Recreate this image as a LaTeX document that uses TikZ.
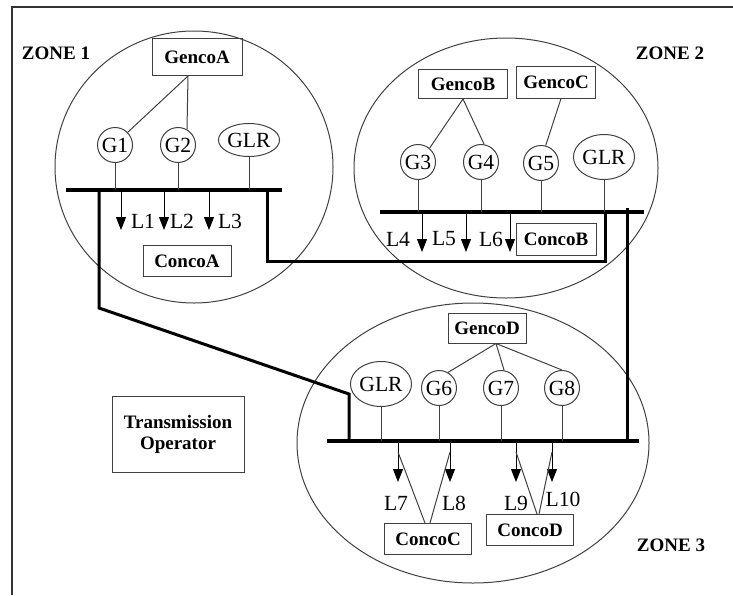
\documentclass[tikz,border=0pt]{standalone}
\usepackage{fontspec}
\setmainfont{Liberation Serif}
\usetikzlibrary{shapes.geometric,arrows.meta}
\newcommand{\taille}{\fontsize{9.5}{10.5}\selectfont}
\newcommand{\grand}{\fontsize{10.8}{12}\selectfont}
\begin{document}
\begin{tikzpicture}[x=0.5pt,y=-0.5pt,
  every node/.style={font=\grand,inner sep=0pt},
  boite/.style={draw=black!75,line width=0.5pt,font=\taille\bfseries},
  gen/.style={draw=black!75,line width=0.5pt,circle,minimum size=17.5pt},
  glr/.style={draw=black!75,line width=0.5pt,ellipse},
  zone/.style={draw=black!75,line width=0.5pt,ellipse},
  fil/.style={draw=black!75,line width=0.5pt},
  barre/.style={line width=2.2pt},
  ligne/.style={line width=1.5pt},
  charge/.style={line width=0.5pt,-{Triangle[length=6.5pt,width=5pt]}}]

\useasboundingbox (0,0) rectangle (733,595);

% Cadre
\draw[line width=0.6pt,black!80] (12,595) -- (12,7) -- (733,7);

% Zones
\node[zone,minimum width=139pt,minimum height=136pt] (zone1) at (194,167) {};
\node[zone,minimum width=152pt,minimum height=130pt] (zone2) at (506,168) {};
\node[zone,minimum width=176pt,minimum height=140pt] (zone3) at (473,443) {};

\node[font=\taille\bfseries] (tz1) at (56,53) {ZONE 1};
\node[font=\taille\bfseries] (tz2) at (670,53) {ZONE 2};
\node[font=\taille\bfseries] (tz3) at (671,545) {ZONE 3};

% Zone 1
\node[boite,minimum width=45pt,minimum height=18.5pt] (GencoA) at (197,57) {GencoA};
\node[gen] (G1) at (115,145) {G1};
\node[gen] (G2) at (178,145) {G2};
\node[glr,minimum width=27.5pt,minimum height=16.5pt] (GLR1) at (249,140) {GLR};
\coordinate (gA) at ([xshift=-4.5pt]GencoA.south);
\draw[fil] (gA) -- (G1.45);
\draw[fil] (gA) -- (G2.60);

\coordinate (b1g) at (66,190);
\coordinate (b1d) at (282,190);
\draw[barre] (b1g) -- (b1d);
\foreach \n in {G1,G2,GLR1}
{
\draw[fil] (\n.south) -- (\n.south |- b1g);
}

\foreach \i/\x/\lx in {1/121/143,2/164/182,3/209/230}
{
\coordinate (c\i) at (\x,230);
\draw[charge] (c\i |- b1g) -- (c\i);
\node (lL\i) at (\lx,221) {L\i};
}

\node[boite,minimum width=44pt,minimum height=15.5pt] (ConcoA) at (187,261) {ConcoA};

% Zone 2
\node[boite,minimum width=44.5pt,minimum height=14.5pt] (GencoB) at (463,84) {GencoB};
\node[boite,minimum width=39.5pt,minimum height=16pt] (GencoC) at (556,82) {GencoC};
\node[gen] (G3) at (418,162) {G3};
\node[gen] (G4) at (481,162) {G4};
\node[gen] (G5) at (541,163) {G5};
\node[glr,minimum width=26.5pt,minimum height=22.5pt] (GLR2) at (604,157) {GLR};
\coordinate (gC) at ([xshift=2.5pt]GencoC.south);
\draw[fil] (GencoB.south) -- (G3.50);
\draw[fil] (GencoB.south) -- (G4.80);
\draw[fil] (gC) -- (G5.75);

\coordinate (b2g) at (380,212);
\coordinate (b2d) at (644,212);
\draw[barre] (b2g) -- (b2d);
\foreach \n in {G3,G4,G5,GLR2}
{
\draw[fil] (\n.south) -- (\n.south |- b2g);
}

\foreach \i/\x/\lx in {4/422/398,5/466/444,6/510/491}
{
\coordinate (c\i) at (\x,252);
\draw[charge] (c\i |- b2g) -- (c\i);
\node (lL\i) at (\lx,239) {L\i};
}

\node[boite,minimum width=40pt,minimum height=16pt] (ConcoB) at (556,239) {ConcoB};

% Zone 3
\node[boite,minimum width=39pt,minimum height=15pt] (GencoD) at (487,328) {GencoD};
\node[glr,minimum width=27pt,minimum height=22.5pt] (GLR3) at (381,384) {GLR};
\node[gen] (G6) at (439,388) {G6};
\node[gen] (G7) at (501,388) {G7};
\node[gen] (G8) at (562,388) {G8};
\coordinate (gD) at ([xshift=4.5pt]GencoD.south);
\draw[fil] (gD) -- (G6.60);
\draw[fil] (gD) -- (G7.80);
\draw[fil] (gD) -- (G8.90);

\coordinate (b3g) at (327,441);
\coordinate (b3d) at (639,441);
\draw[barre] (b3g) -- (b3d);
\foreach \n in {GLR3,G6,G7,G8}
{
\draw[fil] (\n.south) -- (\n.south |- b3g);
}

\foreach \i/\x/\lx/\ly in {7/398/396/503,8/450/454/503,9/516/516/503,10/552/563/499}
{
\coordinate (c\i) at (\x,482);
\draw[charge] (c\i |- b3g) -- (c\i);
\node (lL\i) at (\lx,\ly) {L\i};
}

\node[boite,minimum width=43.5pt,minimum height=15.5pt] (ConcoC) at (428,539) {ConcoC};
\node[boite,minimum width=43.5pt,minimum height=15.5pt] (ConcoD) at (530,530) {ConcoD};

\draw[fil] ([xshift=-1.5pt]ConcoC.north) -- ([yshift=-5.5pt]c7 |- b3g);
\draw[fil] ([xshift=1pt]ConcoC.north) -- ([yshift=-5.5pt]c8 |- b3g);
\draw[fil] ([xshift=3.5pt]ConcoD.north) -- ([yshift=-5.5pt]c9 |- b3g);
\draw[fil] ([xshift=4.5pt]ConcoD.north) -- ([yshift=-5.5pt]c10 |- b3g);

% Lignes de transport
\draw[ligne] (99,190) -- (99,308) -- (349,394) -- (349,441);
\draw[ligne] (267,190) -- (267,261) -- (605,261) -- (605,212);
\draw[ligne] (627,208) -- (627,441);

% Operateur
\node[boite,minimum width=66pt,minimum height=38pt,align=center] (TO) at (178,434) {Transmission\\Operator};

\end{tikzpicture}
\end{document}
